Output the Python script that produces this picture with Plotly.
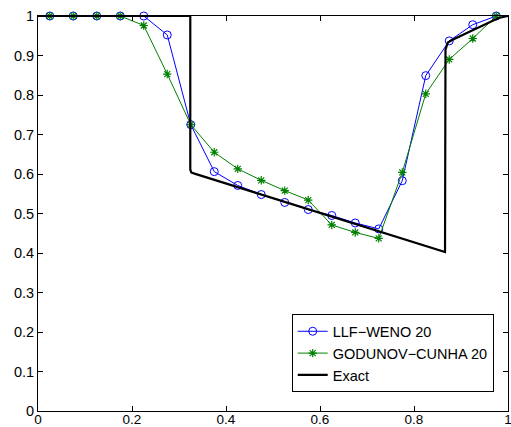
import plotly.graph_objects as go

# Cell centres of the 20-cell grid
x_cells = [0.025, 0.075, 0.125, 0.175, 0.225, 0.275, 0.325, 0.375, 0.425, 0.475,
           0.525, 0.575, 0.625, 0.675, 0.725, 0.775, 0.825, 0.875, 0.925, 0.975]

# LLF-WENO solution, 20 cells
llf_weno = [1.0, 1.0, 1.0, 1.0, 1.0, 0.952, 0.725, 0.606, 0.571, 0.548,
            0.528, 0.510, 0.495, 0.476, 0.461, 0.583, 0.849, 0.937, 0.978, 1.0]

# Godunov-Cunha solution, 20 cells
godunov_cunha = [1.0, 1.0, 1.0, 1.0, 0.976, 0.853, 0.725, 0.655, 0.613, 0.584,
                 0.558, 0.534, 0.471, 0.452, 0.437, 0.604, 0.803, 0.890, 0.943, 1.0]

# Exact solution profile
x_exact = [0.0, 0.324, 0.324, 0.326, 0.333, 0.866, 0.866, 0.867, 0.872, 0.882, 0.98, 1.0]
y_exact = [1.0, 1.0, 0.612, 0.604, 0.601, 0.4025, 0.4025, 0.915, 0.933, 0.940, 0.995, 1.0]

x_ticks = [0, 0.2, 0.4, 0.6, 0.8, 1]
x_ticklabels = ["0", "0.2", "0.4", "0.6", "0.8", "1"]
y_ticks = [0, 0.1, 0.2, 0.3, 0.4, 0.5, 0.6, 0.7, 0.8, 0.9, 1]
y_ticklabels = ["0", "0.1", "0.2", "0.3", "0.4", "0.5", "0.6", "0.7", "0.8", "0.9", "1"]

FONT = "Liberation Sans, Arial, Helvetica, sans-serif"

fig = go.Figure()

fig.add_trace(go.Scatter(
    x=x_cells, y=llf_weno, mode="lines+markers", name="LLF\u2212WENO 20",
    line=dict(color="rgb(0,0,255)", width=1),
    marker=dict(symbol="circle-open", size=8, color="rgb(0,0,255)", line=dict(width=1)),
    cliponaxis=False,
))

fig.add_trace(go.Scatter(
    x=x_cells, y=godunov_cunha, mode="lines+markers", name="GODUNOV\u2212CUNHA 20",
    line=dict(color="rgb(0,128,0)", width=1),
    marker=dict(symbol="asterisk-open", size=7, color="rgb(0,128,0)", line=dict(width=1.2, color="rgb(0,128,0)")),
    cliponaxis=False,
))

fig.add_trace(go.Scatter(
    x=x_exact, y=y_exact, mode="lines", name="Exact",
    line=dict(color="black", width=2.2),
    cliponaxis=False,
))

axis_common = dict(
    showgrid=False, zeroline=False,
    showline=True, linecolor="black", linewidth=1, mirror="ticks",
    ticks="inside", ticklen=5, tickwidth=1, tickcolor="black",
    ticklabeloverflow="allow", automargin=False,
)

fig.update_layout(
    width=511, height=427,
    margin=dict(l=38, r=3, t=16, b=16),
    paper_bgcolor="white", plot_bgcolor="white",
    font=dict(family=FONT, size=14, color="black"),
    xaxis=dict(range=[0, 1], tickvals=x_ticks, ticktext=x_ticklabels,
               tickfont=dict(family=FONT, size=13.5, color="black"),
               ticklabelstandoff=-4, **axis_common),
    yaxis=dict(range=[0, 1], tickvals=y_ticks, ticktext=y_ticklabels,
               tickfont=dict(family=FONT, size=14.5, color="black"),
               **axis_common),
    legend=dict(
        x=0.9696, y=0.146, xanchor="right", yanchor="middle",
        bgcolor="white", bordercolor="black", borderwidth=1,
        font=dict(family=FONT, size=14.5, color="black"),
        tracegroupgap=0, itemwidth=30,
    ),
    showlegend=True,
)

fig.write_html("out.html")
